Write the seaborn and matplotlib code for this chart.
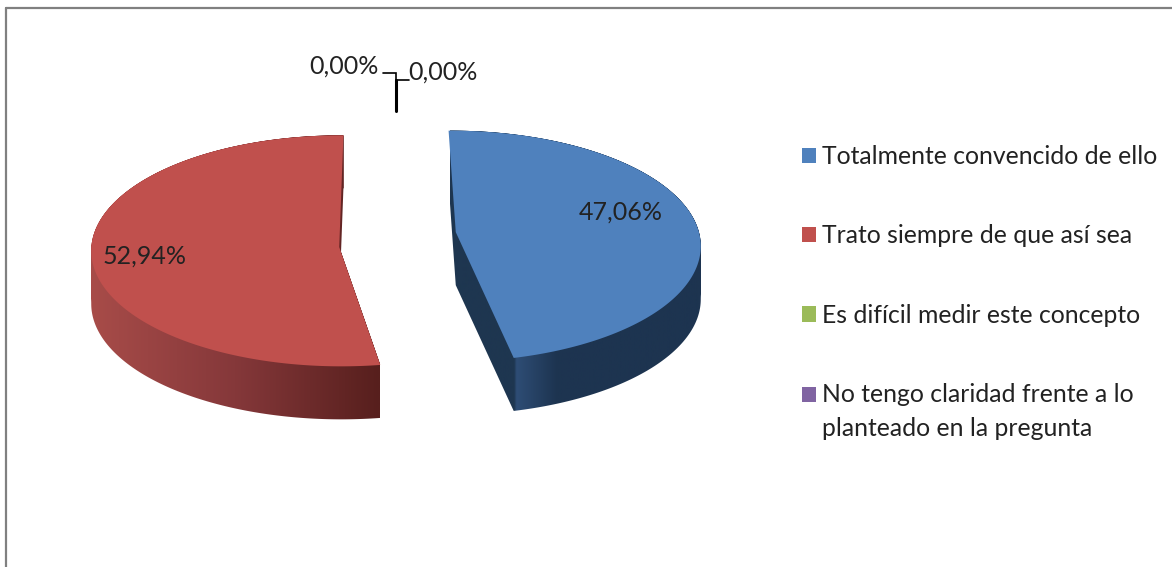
import numpy as np
import matplotlib
matplotlib.use("Agg")
import matplotlib.pyplot as plt
import seaborn as sns
from matplotlib.colors import LinearSegmentedColormap
from matplotlib.lines import Line2D
from matplotlib.path import Path

categories = ["Totalmente convencido de ello", "Trato siempre de que así sea",
              "Es difícil medir este concepto",
              "No tengo claridad frente a lo\nplanteado en la pregunta"]
values = [47.06, 52.94, 0.0, 0.0]
colors = ["#4f81bd", "#c0504d", "#9bbb59", "#8064a2"]

W, H = 1172, 567
CX, CY, RX, RY = 396, 248.5, 250, 115.5
DEPTH = 53 / RY

sns.set_theme(style="white")
plt.rcParams["font.family"] = ["Lato", "DejaVu Sans"]

fig = plt.figure(figsize=(W / 100, H / 100), dpi=100, facecolor="white")
ax = fig.add_axes([0, 0, 1, 1])


def dx(px):
    return (px - CX) / RX


def dy(py):
    return (CY - py) / RY


wedges, _ = ax.pie(values, colors=colors, explode=[0.22, 0.22, 0, 0], startangle=90,
                   counterclock=False, normalize=True,
                   wedgeprops=dict(linewidth=0, zorder=3))
ax.set_aspect("auto")
ax.set_xlim(dx(0), dx(W))
ax.set_ylim(dy(H), dy(0))
ax.set_axis_off()


def tilt(wedge, d1, d2, ax_px, ay_px):
    """Smooth outline of a slice, with the small shifts the 3-D perspective gives."""
    t = np.radians(np.linspace(wedge.theta1 + d1, wedge.theta2 + d2, 400))
    cx, cy = wedge.center
    arc = np.column_stack([cx + wedge.r * np.cos(t), cy + wedge.r * np.sin(t)])
    apex = [cx + ax_px / RX, cy + ay_px / RY]
    poly = np.vstack([[apex], arc, [apex]])
    wedge._path = Path(poly, closed=True)
    wedge.stale = True
    return poly


def swept_path(poly, depth):
    parts = [Path(poly, closed=True)]
    area0 = np.sum(poly[:-1, 0] * poly[1:, 1] - poly[1:, 0] * poly[:-1, 1])
    if area0 < 0:
        parts = [Path(poly[::-1], closed=True)]
    for a, b in zip(poly[:-1], poly[1:]):
        quad = np.array([a, b, b - [0, depth], a - [0, depth], a])
        area = np.sum(quad[:-1, 0] * quad[1:, 1] - quad[1:, 0] * quad[:-1, 1])
        if area < 0:
            quad = quad[::-1]
        parts.append(Path(quad, closed=True))
    return Path.make_compound_path(*parts)


def side(poly, stops, x0, x1):
    cmap = LinearSegmentedColormap.from_list("side", stops)
    im = ax.imshow(np.linspace(0, 1, 256)[None, :], cmap=cmap, aspect="auto", zorder=2,
                   extent=(dx(x0), dx(x1), dy(440), dy(100)))
    im.set_clip_path(swept_path(poly, DEPTH), ax.transData)


blue_poly = tilt(wedges[0], 4, 0.5, 5, 14)
red_poly = tilt(wedges[1], -0.5, -1.6, -2, 3.8)

side(blue_poly, [(0, "#1e3650"), (0.25, "#1e3650"), (0.26, "#2e4d75"),
                 (0.42, "#1d3450"), (1, "#1d3450")], 450, 705)
side(red_poly, [(0, "#a84c49"), (0.5, "#85383a"), (1, "#571f1d")], 90, 380)
ax.set_xlim(dx(0), dx(W))
ax.set_ylim(dy(H), dy(0))

fmt = [f"{v:.2f}%".replace(".", ",") for v in values]
label_px = [(621, 212), (145, 256), (344, 66), (443, 72)]
for s, (x, y) in zip(fmt, label_px):
    ax.text(dx(x), dy(y), s, ha="center", va="center", fontsize=18, color="#222222", zorder=5)

for xs, ys, lw in [((383, 396, 396), (73, 73, 80), 1.2),
                   ((409, 396), (80, 80), 1.2),
                   ((396, 396), (80, 111), 2.2)]:
    ax.plot([dx(x) for x in xs], [dy(y) for y in ys], color="black", lw=lw, zorder=4,
            solid_joinstyle="miter")

leg = ax.legend(wedges, categories, loc="upper left",
                bbox_to_anchor=(802 / W, 1 - 145 / H), bbox_transform=fig.transFigure,
                frameon=False, fontsize=17.8, labelcolor="#222222", handlelength=0.56,
                handleheight=0.56, handletextpad=0.26, labelspacing=2.28,
                borderpad=0, borderaxespad=0, alignment="left")
for t in leg.get_texts():
    t.set_linespacing(1.55)
h = leg.legend_handles[3]
h.set_y(h.get_y() + 13)

for xs, ys in [((5.5, 5.5), (H, 8)), ((5.5, W), (8, 8))]:
    fig.add_artist(Line2D([x / W for x in xs], [1 - y / H for y in ys], color="#808080",
                          lw=1.6, transform=fig.transFigure))

fig.savefig("out.png", dpi=100, facecolor="white")
